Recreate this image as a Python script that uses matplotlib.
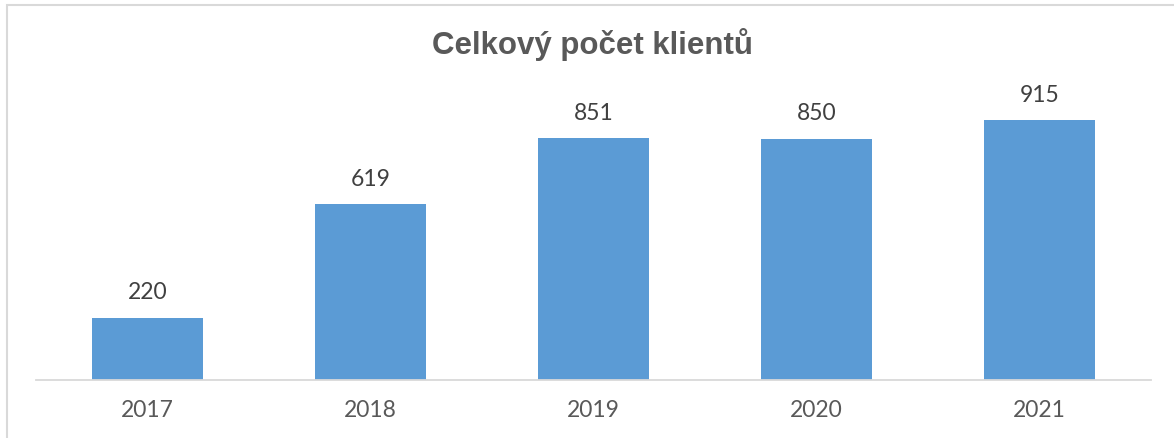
import matplotlib.pyplot as plt
from matplotlib.patches import Rectangle

years = ["2017", "2018", "2019", "2020", "2021"]
clients = [220, 619, 851, 850, 915]

W, H = 1174, 439
fig = plt.figure(figsize=(W / 100, H / 100), dpi=100)

# grey frame of the chart area (cut off at right and bottom)
fig.patches.append(Rectangle((6.5 / W, -0.1), 1.2, (H - 5.5) / H + 0.1,
                             transform=fig.transFigure, fill=False,
                             edgecolor="#d9d9d9", linewidth=1.5))

ax = fig.add_axes([36 / W, 58 / H, 1115 / W, 284 / H])
x = range(len(years))
bars = ax.bar(x, clients, width=0.5, color="#5b9bd5")
ax.set_xlim(-0.5, len(years) - 0.5)
ax.set_ylim(0, 1000)

for b, v in zip(bars, clients):
    ax.text(b.get_x() + b.get_width() / 2, v + 55, str(v), ha="center",
            va="bottom", fontsize=16.5, color="#404040", family="Lato")

ax.set_xticks(list(x))
ax.set_xticklabels(years, fontsize=16.5, color="#595959", family="Lato")
ax.tick_params(axis="x", length=0, pad=14)
ax.set_yticks([])
for s in ["top", "right", "left"]:
    ax.spines[s].set_visible(False)
ax.spines["bottom"].set_color("#d9d9d9")
ax.spines["bottom"].set_linewidth(1.3)

fig.text(592 / W, 1 - 45 / H, "Celkový počet klientů", ha="center",
         va="center", fontsize=22.5, fontweight="bold", color="#595959",
         family="Liberation Sans")

fig.savefig("out.png", dpi=100)
